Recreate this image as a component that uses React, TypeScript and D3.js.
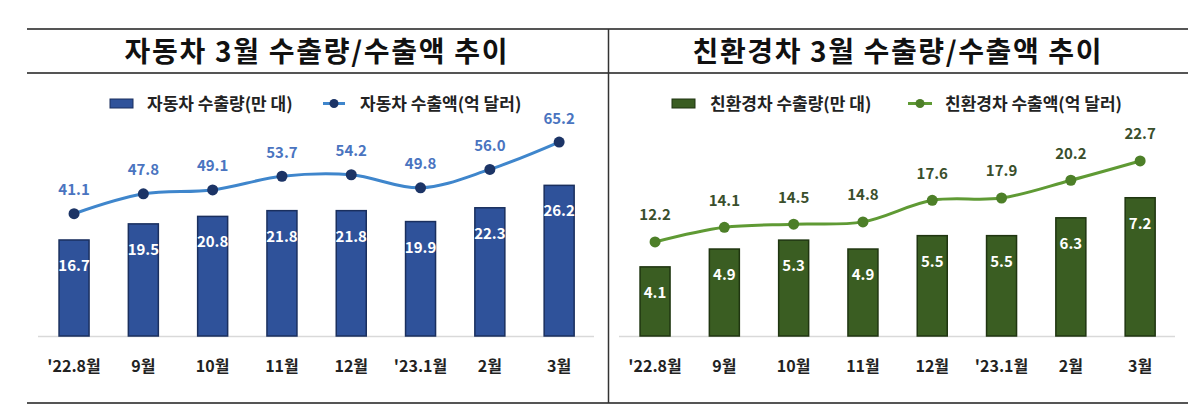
import React from 'react';
import * as d3 from 'd3';

const months = ["'22.8월", '9월', '10월', '11월', '12월', "'23.1월", '2월', '3월'];
const autoVolume = [16.7, 19.5, 20.8, 21.8, 21.8, 19.9, 22.3, 26.2];
const autoValue = [41.1, 47.8, 49.1, 53.7, 54.2, 49.8, 56.0, 65.2];
const ecoVolume = [4.1, 4.9, 5.3, 4.9, 5.5, 5.5, 6.3, 7.2];
const ecoValue = [12.2, 14.1, 14.5, 14.8, 17.6, 17.9, 20.2, 22.7];

const titles = ['자동차 3월 수출량/수출액 추이', '친환경차 3월 수출량/수출액 추이'];
const volLegend = ['자동차 수출량(만 대)', '친환경차 수출량(만 대)'];
const valLegend = ['자동차 수출액(억 달러)', '친환경차 수출액(억 달러)'];

const FONT = "'Noto Sans CJK KR', 'Noto Sans', sans-serif";
const BASE = 336;

interface PanelProps {
  offset: number;
  title: string;
  titleCx: number;
  titleLen: number;
  volLabel: string;
  valLabel: string;
  volume: number[];
  value: number[];
  volDomain: [number, number];
  volTop: number;
  valDomain: [number, number];
  valTop: number;
  barFill: string;
  barStroke: string;
  lineColor: string;
  dotColor: string;
  valLabelColor: string;
  valLabelGap: number;
  legend: { rect: number; text1: number; m0: number; m1: number; text2: number };
}

function Panel(p: PanelProps) {
  const x = d3.scaleBand<string>().domain(months).range([39.4 + p.offset, 593.8 + p.offset]).padding(0);
  const yB = d3.scaleLinear().domain(p.volDomain).range([BASE, p.volTop]);
  const yL = d3.scaleLinear().domain(p.valDomain).range([BASE, p.valTop]);
  const cx = (m: string) => (x(m) as number) + x.bandwidth() / 2;
  const barW = 30;
  const line = d3
    .line<number>()
    .x((_, i) => cx(months[i]))
    .y((d) => yL(d))
    .curve(d3.curveCatmullRom.alpha(0.5));
  const lg = p.legend;
  return (
    <g fontFamily={FONT}>
      <text
        x={p.titleCx}
        y={62}
        textAnchor="middle"
        fontSize={28}
        fontWeight={700}
        fill="#111"
        textLength={p.titleLen}
        lengthAdjust="spacing"
      >
        {p.title}
      </text>
      {/* legend */}
      <rect x={lg.rect} y={99} width={23} height={9} fill={p.barFill} stroke={p.barStroke} strokeWidth={1} />
      <text x={lg.text1} y={109.5} fontSize={17} fontWeight={700} fill="#222">
        {p.volLabel}
      </text>
      <line x1={lg.m0} x2={lg.m1} y1={103.5} y2={103.5} stroke={p.lineColor} strokeWidth={3} />
      <circle cx={(lg.m0 + lg.m1) / 2} cy={103.5} r={4.5} fill={p.dotColor} />
      <text x={lg.text2} y={109.5} fontSize={17} fontWeight={700} fill="#222">
        {p.valLabel}
      </text>
      {/* axis baseline */}
      <line x1={38 + p.offset} x2={594 + p.offset} y1={BASE + 0.5} y2={BASE + 0.5} stroke="#d9d9d9" strokeWidth={1.5} />
      {/* bars */}
      {months.map((m, i) => (
        <g key={'b' + i}>
          <rect
            x={cx(m) - barW / 2}
            y={yB(p.volume[i])}
            width={barW}
            height={BASE - yB(p.volume[i])}
            fill={p.barFill}
            stroke={p.barStroke}
            strokeWidth={1.5}
          />
          <text
            x={cx(m)}
            y={yB(p.volume[i]) + 31}
            textAnchor="middle"
            fontSize={15}
            fontWeight={700}
            fill="#fff"
          >
            {p.volume[i].toFixed(1)}
          </text>
        </g>
      ))}
      {/* line */}
      <path d={line(p.value) || ''} fill="none" stroke={p.lineColor} strokeWidth={3} />
      {months.map((m, i) => (
        <g key={'l' + i}>
          <circle cx={cx(m)} cy={yL(p.value[i])} r={5.5} fill={p.dotColor} />
          <text
            x={cx(m)}
            y={yL(p.value[i]) - p.valLabelGap + 5.5}
            textAnchor="middle"
            fontSize={15}
            fontWeight={700}
            fill={p.valLabelColor}
          >
            {p.value[i].toFixed(1)}
          </text>
        </g>
      ))}
      {/* x labels */}
      {months.map((m, i) => (
        <text key={'x' + i} x={cx(m)} y={372} textAnchor="middle" fontSize={16} fontWeight={700} fill="#222">
          {m}
        </text>
      ))}
    </g>
  );
}

export default function App() {
  return (
    <svg
      width={1200}
      height={420}
      viewBox="0 0 1200 420"
      style={{ position: 'absolute', left: 0, top: 0, background: '#fff' }}
    >
      <rect x={0} y={0} width={1200} height={420} fill="#fff" />
      {/* frame lines */}
      <line x1={27} x2={1188} y1={29} y2={29} stroke="#555" strokeWidth={2} />
      <line x1={27} x2={1188} y1={73} y2={73} stroke="#555" strokeWidth={2} />
      <line x1={27} x2={1188} y1={403} y2={403} stroke="#555" strokeWidth={2} />
      <line x1={608.5} x2={608.5} y1={29} y2={403} stroke="#333" strokeWidth={1.5} />
      <Panel
        offset={0}
        title={titles[0]}
        titleCx={316}
        titleLen={383}
        volLabel={volLegend[0]}
        valLabel={valLegend[0]}
        volume={autoVolume}
        value={autoValue}
        volDomain={[0, 40]}
        volTop={106}
        valDomain={[0, 80]}
        valTop={98}
        barFill="#2f529a"
        barStroke="#1a2f5e"
        lineColor="#3f86cc"
        dotColor="#1c3466"
        valLabelColor="#4a74c0"
        valLabelGap={24}
        legend={{ rect: 110, text1: 147, m0: 323, m1: 345, text2: 360 }}
      />
      <Panel
        offset={581}
        title={titles[1]}
        titleCx={897}
        titleLen={409}
        volLabel={volLegend[1]}
        valLabel={valLegend[1]}
        volume={ecoVolume}
        value={ecoValue}
        volDomain={[1, 10]}
        volTop={135.3}
        valDomain={[0, 30]}
        valTop={104.7}
        barFill="#3a5d22"
        barStroke="#1f3510"
        lineColor="#5f9a34"
        dotColor="#4d7f28"
        valLabelColor="#3a4f2c"
        valLabelGap={27}
        legend={{ rect: 672, text1: 710, m0: 908, m1: 932, text2: 945 }}
      />
    </svg>
  );
}
